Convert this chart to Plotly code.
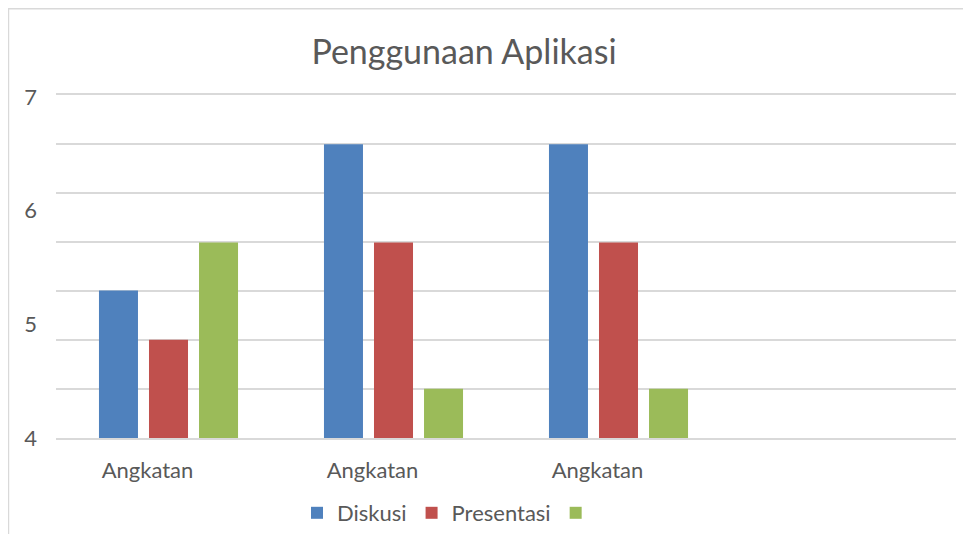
import plotly.graph_objects as go

categories = ["Angkatan", "Angkatan", "Angkatan"]
series_names = ["Diskusi", "Presentasi", ""]
diskusi = [5.29, 6.57, 6.57]
presentasi = [4.86, 5.71, 5.71]
ketiga = [5.71, 4.43, 4.43]
y_tick_labels = [4, 5, 6, 7]
grid_values = [4, 4.43, 4.86, 5.29, 5.71, 6.14, 6.57, 7]

colors = ["#4F81BD", "#C0504D", "#9BBB59"]
font_family = "Lato, 'Liberation Sans', sans-serif"
text_color = "#595959"

W, H = 955, 526  # page has an 8px body margin

positions = list(range(len(categories)))

fig = go.Figure()
for name, vals, col in zip(series_names, [diskusi, presentasi, ketiga], colors):
    fig.add_trace(go.Bar(x=positions, y=vals, name=name if name else " ",
                         marker=dict(color=col, line=dict(width=0))))

# invisible trace so the label axis is drawn
fig.add_trace(go.Scatter(x=[None], y=[None], yaxis="y2", showlegend=False,
                         hoverinfo="skip", mode="markers"))

fig.update_layout(
    width=W, height=H,
    margin=dict(l=48, r=7, t=87, b=96),
    paper_bgcolor="white", plot_bgcolor="white",
    font=dict(family=font_family, color=text_color),
    barmode="group", bargap=0.333, bargroupgap=0.22,
    title=dict(text="Penggunaan Aplikasi", x=456 / W, xanchor="center",
               xref="container", y=1 - 44 / H, yanchor="middle", yref="container",
               font=dict(size=34, color=text_color, family=font_family)),
    xaxis=dict(range=[-0.5, 3.5], tickvals=positions, ticktext=categories,
               showgrid=False, zeroline=False, showline=True, mirror=True,
               linecolor="#D9D9D9", linewidth=1.5, ticks="",
               tickfont=dict(size=22, color=text_color), ticklabelshift=-21,
               ticklabelstandoff=12),
    yaxis=dict(range=[4, 7], tickvals=grid_values, showticklabels=False,
               showgrid=True, gridcolor="#D9D9D9", gridwidth=1.5, zeroline=False,
               showline=False, ticks=""),
    yaxis2=dict(range=[4, 7.017], overlaying="y", side="left", anchor="x",
                tickvals=y_tick_labels, showgrid=False, zeroline=False,
                showline=False, ticks="", tickfont=dict(size=22, color=text_color),
                ticklabelstandoff=18),
    legend=dict(orientation="h", x=444 / W, xanchor="center", xref="container",
                y=1 - 505 / H, yanchor="middle", yref="container",
                font=dict(size=22, color=text_color), traceorder="normal"),
    showlegend=True,
)

# chart frame (left and top border)
fig.add_shape(type="path", xref="paper", yref="paper",
              path="M -0.0528,-0.3 L -0.0528,1.2515 L 1.02,1.2515",
              line=dict(color="#D9D9D9", width=1.5), layer="below")

fig.write_html("out.html")
